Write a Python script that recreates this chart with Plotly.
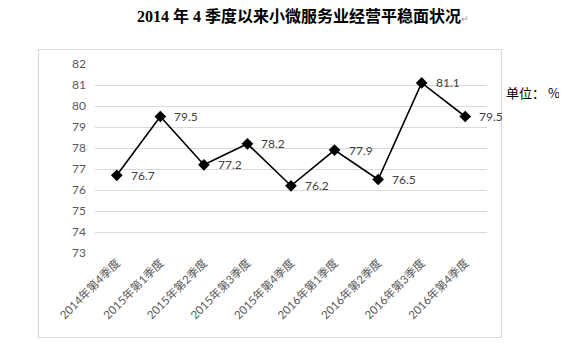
import plotly.graph_objects as go

categories = ["2014年第4季度", "2015年第1季度", "2015年第2季度", "2015年第3季度",
              "2015年第4季度", "2016年第1季度", "2016年第2季度", "2016年第3季度",
              "2016年第4季度"]
values = [76.7, 79.5, 77.2, 78.2, 76.2, 77.9, 76.5, 81.1, 79.5]
y_ticks = [73, 74, 75, 76, 77, 78, 79, 80, 81, 82]

OFF = 8  # page body margin
W, H = 567 - OFF, 361 - OFF
L, R, T, B = 95 - OFF, 487 - OFF, 64 - OFF, 253 - OFF

fig = go.Figure()
fig.add_trace(go.Scatter(
    x=categories, y=values, mode="lines+markers",
    line=dict(color="black", width=1.6),
    marker=dict(symbol="diamond", size=9, color="black"),
    hoverinfo="skip", showlegend=False,
))

for c, v in zip(categories, values):
    fig.add_annotation(x=c, y=v, text=f"{v:.1f}", showarrow=False,
                       xanchor="left", yanchor="middle", xshift=12,
                       font=dict(family="Lato, Noto Sans CJK SC", size=12, color="#404040"))

def px(xp):
    return (xp - OFF - L) / (R - L)

def py(yp):
    return (B - (yp - OFF)) / (B - T)

fig.add_shape(type="rect", xref="paper", yref="paper",
              x0=px(38.5), x1=px(501.5), y0=py(337.5), y1=py(49.5),
              line=dict(color="#d9d9d9", width=1.2), fillcolor="rgba(0,0,0,0)", layer="below")

fig.add_annotation(xref="paper", yref="paper", x=px(303), y=py(16),
                   text="<b>2014 年 4 季度以来小微服务业经营平稳面状况</b><span style='color:#999;font-size:9px'>↵</span>",
                   showarrow=False, xanchor="center", yanchor="middle",
                   font=dict(family="Liberation Serif, Noto Sans CJK SC", size=16, color="black"))
fig.add_annotation(xref="paper", yref="paper", x=px(504), y=py(92),
                   text="单位： %", showarrow=False, xanchor="left", yanchor="middle",
                   font=dict(family="Noto Sans CJK SC", size=13, color="black"))

fig.update_layout(
    width=W, height=H,
    margin=dict(l=L, r=W - R, t=T, b=H - B, pad=0),
    paper_bgcolor="white", plot_bgcolor="white",
    xaxis=dict(type="category", tickangle=-45, showgrid=False, showline=False,
               ticks="", tickfont=dict(family="Lato, Noto Sans CJK SC", size=11.5, color="#595959"),
               range=[-0.5, len(categories) - 0.5], fixedrange=True),
    yaxis=dict(range=[73, 82], tickvals=y_ticks, showgrid=True, gridcolor="#d9d9d9",
               gridwidth=1, zeroline=False, showline=False, ticks="",
               ticklabelstandoff=8,
               tickfont=dict(family="Lato, Noto Sans CJK SC", size=12, color="#595959"),
               fixedrange=True),
)

fig.write_html("out.html")
